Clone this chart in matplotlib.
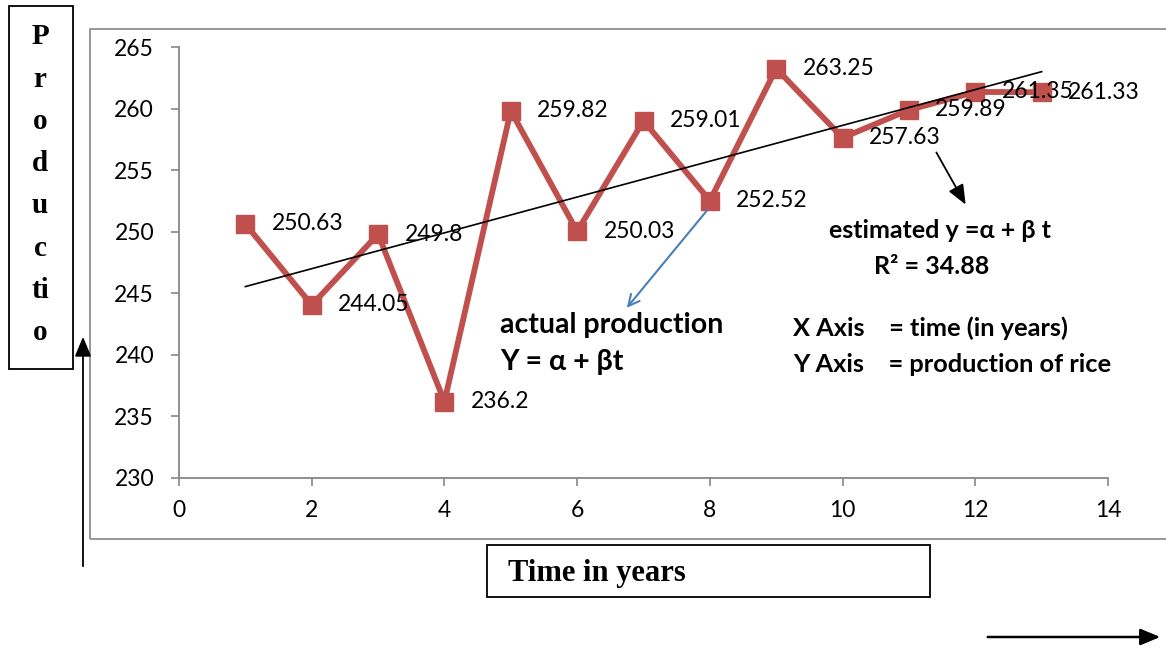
"""Rice production over time with fitted linear trend."""

import matplotlib
matplotlib.use("Agg")
import matplotlib.pyplot as plt
import numpy as np
from matplotlib.patches import Rectangle, FancyArrowPatch

W, H = 1166, 650

years = [1, 2, 3, 4, 5, 6, 7, 8, 9, 10, 11, 12, 13]
production = [250.63, 244.05, 249.8, 236.2, 259.82, 250.03, 259.01,
              252.52, 263.25, 257.63, 259.89, 261.35, 261.33]
x_ticks = [0, 2, 4, 6, 8, 10, 12, 14]
y_ticks = [230, 235, 240, 245, 250, 255, 260, 265]
side_letters = ["P", "r", "o", "d", "u", "c", "ti", "o"]


def px(x, y):
    # pixel position (from top-left) to figure fraction
    return x / W, 1 - y / H


red = "#C0504D"
grey = "#878787"
sans = ["Lato", "DejaVu Sans"]
serif = ["Liberation Serif", "DejaVu Serif"]

fig = plt.figure(figsize=(W / 100, H / 100), dpi=100)

# outer chart border
fig.patches.append(Rectangle(px(90, 539), (1200 - 90) / W, (539 - 29) / H,
                             transform=fig.transFigure, fill=False,
                             edgecolor="#8f8f8f", linewidth=1.3))

ax = fig.add_axes([179 / W, 1 - 478 / H, (1108 - 179) / W, (478 - 47) / H])
ax.set_facecolor("none")

ax.plot(years, production, color=red, linewidth=4.2, marker="s",
        markersize=13, markerfacecolor=red, markeredgecolor=red, zorder=3)

# linear trend
coef = np.polyfit(years, production, 1)
ax.plot([years[0], years[-1]], np.polyval(coef, [years[0], years[-1]]),
        color="black", linewidth=1.2, zorder=4)

for t, v in zip(years, production):
    ax.annotate(f"{v:g}", (t, v), xytext=(19, 0), textcoords="offset points",
                va="center", ha="left", fontsize=16.5, family=sans, zorder=5)

ax.set_xlim(0, 14)
ax.set_ylim(230, 265)
ax.set_xticks(x_ticks)
ax.set_yticks(y_ticks)
for side in ["top", "right"]:
    ax.spines[side].set_visible(False)
for side in ["left", "bottom"]:
    ax.spines[side].set_color(grey)
    ax.spines[side].set_linewidth(1.3)
ax.tick_params(axis="both", colors=grey, length=6, width=1.2,
               labelsize=16.5, labelcolor="black")
ax.tick_params(axis="y", pad=12)
ax.tick_params(axis="x", pad=10)
for lab in ax.get_xticklabels() + ax.get_yticklabels():
    lab.set_family(sans)

# pointer arrows
fig.patches.append(FancyArrowPatch(px(709, 208), px(625, 310),
                                   transform=fig.transFigure,
                                   arrowstyle="->,head_length=8,head_width=4",
                                   color="#4A7EBB", linewidth=1.5))
fig.patches.append(FancyArrowPatch(px(935, 150), px(967, 207),
                                   transform=fig.transFigure,
                                   arrowstyle="-|>,head_length=12,head_width=5",
                                   color="black", linewidth=1.3))

fig.text(*px(500, 325), "actual production", fontsize=20.5, fontweight="bold",
         family=sans, va="center", ha="left")
fig.text(*px(500, 362), "Y = α + βt", fontsize=20.5, fontweight="bold",
         family=sans, va="center", ha="left")
fig.text(*px(940, 231), "estimated y =α + β t", fontsize=18,
         fontweight="bold", family=sans, va="center", ha="center")
fig.text(*px(932, 266), "R² = 34.88", fontsize=18, fontweight="bold",
         family=sans, va="center", ha="center")
fig.text(*px(793, 328), "X Axis    = time (in years)", fontsize=18.3,
         fontweight="bold", family=sans, va="center", ha="left")
fig.text(*px(793, 365), "Y Axis    = production of rice", fontsize=18.3,
         fontweight="bold", family=sans, va="center", ha="left")

# vertical axis title box
fig.patches.append(Rectangle(px(9, 369), (73 - 9) / W, (369 - 6) / H,
                             transform=fig.transFigure, fill=False,
                             edgecolor="black", linewidth=1.3))
for i, letter in enumerate(side_letters):
    fig.text(*px(40, 37 + i * 42.2), letter, fontsize=21, fontweight="bold",
             family=serif, va="center", ha="center")

# horizontal axis title box
fig.patches.append(Rectangle(px(487, 597), (930 - 487) / W, (597 - 545) / H,
                             transform=fig.transFigure, fill=False,
                             edgecolor="black", linewidth=1.3))
fig.text(*px(508, 573), "Time in years", fontsize=22, fontweight="bold",
         family=serif, va="center", ha="left")

# direction arrows
fig.patches.append(FancyArrowPatch(px(83, 569), px(83, 334),
                                   transform=fig.transFigure,
                                   arrowstyle="-|>,head_length=12,head_width=5",
                                   color="black", linewidth=1.3))
fig.patches.append(FancyArrowPatch(px(985, 637), px(1163, 637),
                                   transform=fig.transFigure,
                                   arrowstyle="-|>,head_length=12,head_width=5",
                                   color="black", linewidth=1.8))

fig.savefig("out.png", dpi=100)
